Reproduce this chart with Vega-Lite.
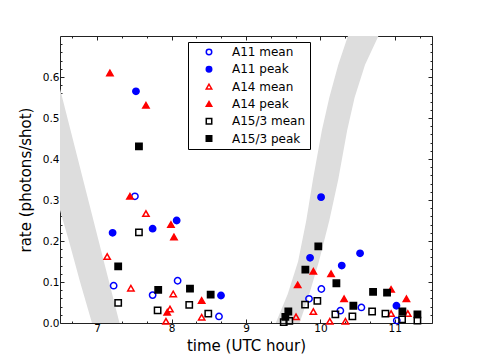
{
  "$schema": "https://vega.github.io/schema/vega-lite/v6.json",
  "width": 372,
  "height": 287,
  "autosize": {"type": "none"},
  "padding": {"left": 60, "top": 36, "right": 48, "bottom": 37},
  "config": {
    "view": {"stroke": "#222", "strokeWidth": 1},
    "font": "DejaVu Sans",
    "axis": {
      "labelFont": "DejaVu Sans", "labelFontSize": 10.5, "labelColor": "#000",
      "tickColor": "#222", "tickWidth": 1, "domain": false, "grid": false,
      "titleFont": "DejaVu Sans", "titleFontSize": 15, "titleFontWeight": "normal", "titleColor": "#000"
    }
  },
  "datasets": {
    "band1": [
      {"y": 0.0, "xl": 6.93, "xr": 7.30},
      {"y": 0.1, "xl": 6.77, "xr": 7.16},
      {"y": 0.2, "xl": 6.62, "xr": 7.02},
      {"y": 0.3, "xl": 6.46, "xr": 6.88},
      {"y": 0.4, "xl": 6.31, "xr": 6.74},
      {"y": 0.5, "xl": 6.15, "xr": 6.60},
      {"y": 0.6, "xl": 6.00, "xr": 6.46},
      {"y": 0.7, "xl": 5.84, "xr": 6.32}
    ],
    "band2": [
      {"y": 0.0, "xl": 9.40, "xr": 9.72},
      {"y": 0.07, "xl": 9.56, "xr": 9.85},
      {"y": 0.15, "xl": 9.70, "xr": 9.98},
      {"y": 0.25, "xl": 9.81, "xr": 10.12},
      {"y": 0.35, "xl": 9.90, "xr": 10.24},
      {"y": 0.47, "xl": 10.02, "xr": 10.36},
      {"y": 0.55, "xl": 10.12, "xr": 10.46},
      {"y": 0.63, "xl": 10.24, "xr": 10.60},
      {"y": 0.70, "xl": 10.37, "xr": 10.78}
    ],
    "pts": [
      {"series": "A11 mean", "t": 7.507, "rate": 0.309},
      {"series": "A11 mean", "t": 7.221, "rate": 0.091},
      {"series": "A11 mean", "t": 7.745, "rate": 0.068},
      {"series": "A11 mean", "t": 8.081, "rate": 0.103},
      {"series": "A11 mean", "t": 8.637, "rate": 0.016},
      {"series": "A11 mean", "t": 10.013, "rate": 0.083},
      {"series": "A11 mean", "t": 9.847, "rate": 0.059},
      {"series": "A11 mean", "t": 10.551, "rate": 0.038},
      {"series": "A11 mean", "t": 10.268, "rate": 0.030},
      {"series": "A11 mean", "t": 11.027, "rate": 0.006},
      {"series": "A11 peak", "t": 7.521, "rate": 0.565},
      {"series": "A11 peak", "t": 7.207, "rate": 0.220},
      {"series": "A11 peak", "t": 7.745, "rate": 0.230},
      {"series": "A11 peak", "t": 8.068, "rate": 0.250},
      {"series": "A11 peak", "t": 8.664, "rate": 0.067},
      {"series": "A11 peak", "t": 10.009, "rate": 0.307},
      {"series": "A11 peak", "t": 10.533, "rate": 0.170},
      {"series": "A11 peak", "t": 9.861, "rate": 0.159},
      {"series": "A11 peak", "t": 10.287, "rate": 0.140},
      {"series": "A11 peak", "t": 11.022, "rate": 0.042},
      {"series": "A14 mean", "t": 7.655, "rate": 0.267},
      {"series": "A14 mean", "t": 7.134, "rate": 0.162},
      {"series": "A14 mean", "t": 7.453, "rate": 0.085},
      {"series": "A14 mean", "t": 8.022, "rate": 0.071},
      {"series": "A14 mean", "t": 7.978, "rate": 0.034},
      {"series": "A14 mean", "t": 7.924, "rate": 0.004},
      {"series": "A14 mean", "t": 8.404, "rate": 0.014},
      {"series": "A14 mean", "t": 9.905, "rate": 0.028},
      {"series": "A14 mean", "t": 9.672, "rate": 0.015},
      {"series": "A14 mean", "t": 10.126, "rate": 0.004},
      {"series": "A14 mean", "t": 10.336, "rate": 0.004},
      {"series": "A14 mean", "t": 10.950, "rate": 0.023},
      {"series": "A14 mean", "t": 11.175, "rate": 0.023},
      {"series": "A14 peak", "t": 7.171, "rate": 0.610},
      {"series": "A14 peak", "t": 7.655, "rate": 0.531},
      {"series": "A14 peak", "t": 7.440, "rate": 0.309},
      {"series": "A14 peak", "t": 7.991, "rate": 0.240},
      {"series": "A14 peak", "t": 8.032, "rate": 0.210},
      {"series": "A14 peak", "t": 8.404, "rate": 0.055},
      {"series": "A14 peak", "t": 7.941, "rate": 0.026},
      {"series": "A14 peak", "t": 9.905, "rate": 0.126},
      {"series": "A14 peak", "t": 10.143, "rate": 0.120},
      {"series": "A14 peak", "t": 9.695, "rate": 0.093},
      {"series": "A14 peak", "t": 10.318, "rate": 0.059},
      {"series": "A14 peak", "t": 10.950, "rate": 0.082},
      {"series": "A14 peak", "t": 11.156, "rate": 0.059},
      {"series": "A15/3 mean", "t": 7.561, "rate": 0.221},
      {"series": "A15/3 mean", "t": 7.282, "rate": 0.049},
      {"series": "A15/3 mean", "t": 7.812, "rate": 0.031},
      {"series": "A15/3 mean", "t": 8.237, "rate": 0.044},
      {"series": "A15/3 mean", "t": 8.493, "rate": 0.023},
      {"series": "A15/3 mean", "t": 9.959, "rate": 0.054},
      {"series": "A15/3 mean", "t": 9.794, "rate": 0.045},
      {"series": "A15/3 mean", "t": 10.695, "rate": 0.028},
      {"series": "A15/3 mean", "t": 10.874, "rate": 0.023},
      {"series": "A15/3 mean", "t": 10.201, "rate": 0.021},
      {"series": "A15/3 mean", "t": 10.430, "rate": 0.016},
      {"series": "A15/3 mean", "t": 9.507, "rate": 0.002},
      {"series": "A15/3 mean", "t": 9.582, "rate": 0.005},
      {"series": "A15/3 mean", "t": 11.098, "rate": 0.009},
      {"series": "A15/3 mean", "t": 11.304, "rate": 0.006},
      {"series": "A15/3 peak", "t": 7.561, "rate": 0.431},
      {"series": "A15/3 peak", "t": 7.282, "rate": 0.138},
      {"series": "A15/3 peak", "t": 7.820, "rate": 0.081},
      {"series": "A15/3 peak", "t": 8.247, "rate": 0.084},
      {"series": "A15/3 peak", "t": 8.525, "rate": 0.069},
      {"series": "A15/3 peak", "t": 9.972, "rate": 0.187},
      {"series": "A15/3 peak", "t": 9.798, "rate": 0.130},
      {"series": "A15/3 peak", "t": 10.215, "rate": 0.097},
      {"series": "A15/3 peak", "t": 10.708, "rate": 0.076},
      {"series": "A15/3 peak", "t": 10.896, "rate": 0.074},
      {"series": "A15/3 peak", "t": 10.443, "rate": 0.042},
      {"series": "A15/3 peak", "t": 9.569, "rate": 0.028},
      {"series": "A15/3 peak", "t": 11.102, "rate": 0.028},
      {"series": "A15/3 peak", "t": 11.304, "rate": 0.021},
      {"series": "A15/3 peak", "t": 9.529, "rate": 0.015}
    ]
  },
  "layer": [
    {
      "data": {"name": "band1"},
      "mark": {"type": "area", "orient": "horizontal", "color": "#dddddd", "clip": true},
      "encoding": {
        "y": {"field": "y", "type": "quantitative", "scale": {"domain": [0, 0.7], "nice": false, "zero": false},
          "axis": {"orient": "left", "values": [0, 0.1, 0.2, 0.3, 0.4, 0.5, 0.6], "format": ".1f", "tickSize": -4, "labelPadding": 5, "title": "rate (photons/shot)", "titlePadding": 9}},
        "x": {"field": "xl", "type": "quantitative", "scale": {"domain": [6.5, 11.5], "nice": false, "zero": false},
          "axis": {"orient": "bottom", "values": [7, 8, 9, 10, 11], "format": "d", "tickSize": -4, "labelPadding": 4, "title": "time (UTC hour)", "titlePadding": 5}},
        "x2": {"field": "xr"}
      }
    },
    {
      "data": {"name": "band2"},
      "mark": {"type": "area", "orient": "horizontal", "color": "#dddddd", "clip": true},
      "encoding": {
        "y": {"field": "y", "type": "quantitative", "scale": {"domain": [0, 0.7], "nice": false, "zero": false},
          "axis": {"orient": "right", "values": [0, 0.1, 0.2, 0.3, 0.4, 0.5, 0.6, 0.7], "labels": false, "tickSize": -4, "title": null}},
        "x": {"field": "xl", "type": "quantitative", "scale": {"domain": [6.5, 11.5], "nice": false, "zero": false},
          "axis": {"orient": "top", "values": [7, 8, 9, 10, 11], "labels": false, "tickSize": -4, "title": null}},
        "x2": {"field": "xr"}
      }
    },
    {
      "data": {"name": "pts"},
      "mark": {"type": "point", "opacity": 0},
      "encoding": {
        "y": {"field": "rate", "type": "quantitative", "scale": {"domain": [0, 0.7], "nice": false, "zero": false},
          "axis": {"orient": "right", "values": [0.02, 0.04, 0.06, 0.08, 0.12, 0.14, 0.16, 0.18, 0.22, 0.24, 0.26, 0.28, 0.32, 0.34, 0.36, 0.38, 0.42, 0.44, 0.46, 0.48, 0.52, 0.54, 0.56, 0.58, 0.62, 0.64, 0.66, 0.68], "labels": false, "tickSize": -2, "title": null}},
        "x": {"field": "t", "type": "quantitative", "scale": {"domain": [6.5, 11.5], "nice": false, "zero": false},
          "axis": {"orient": "top", "values": [6.6667, 7.3333, 7.6667, 8.3333, 8.6667, 9.3333, 9.6667, 10.3333, 10.6667, 11.3333], "labels": false, "tickSize": -2, "title": null}}
      }
    },
    {
      "data": {"name": "pts"},
      "mark": {"type": "point", "opacity": 1, "size": 40, "strokeWidth": 1.5},
      "encoding": {
        "y": {"field": "rate", "type": "quantitative", "scale": {"domain": [0, 0.7], "nice": false, "zero": false},
          "axis": {"orient": "left", "values": [0.02, 0.04, 0.06, 0.08, 0.12, 0.14, 0.16, 0.18, 0.22, 0.24, 0.26, 0.28, 0.32, 0.34, 0.36, 0.38, 0.42, 0.44, 0.46, 0.48, 0.52, 0.54, 0.56, 0.58, 0.62, 0.64, 0.66, 0.68], "labels": false, "tickSize": -2, "title": null}},
        "x": {"field": "t", "type": "quantitative", "scale": {"domain": [6.5, 11.5], "nice": false, "zero": false},
          "axis": {"orient": "bottom", "values": [6.6667, 7.3333, 7.6667, 8.3333, 8.6667, 9.3333, 9.6667, 10.3333, 10.6667, 11.3333], "labels": false, "tickSize": -2, "title": null}},
        "shape": {"field": "series", "type": "nominal",
          "scale": {"domain": ["A11 mean", "A11 peak", "A14 mean", "A14 peak", "A15/3 mean", "A15/3 peak"], "range": ["circle", "circle", "triangle-up", "triangle-up", "square", "square"]},
          "legend": {"orient": "none", "legendX": 128, "legendY": 6, "title": null, "padding": 4, "symbolOffset": 11, "labelOffset": 17, "rowPadding": 5.3, "strokeColor": "#000", "fillColor": "#fff", "cornerRadius": 0, "labelFont": "DejaVu Sans", "labelFontSize": 12, "labelColor": "#000", "symbolSize": 30, "symbolStrokeWidth": 1.5}},
        "stroke": {"field": "series", "type": "nominal",
          "scale": {"domain": ["A11 mean", "A11 peak", "A14 mean", "A14 peak", "A15/3 mean", "A15/3 peak"], "range": ["#0000ff", "#0000ff", "#ff0000", "#ff0000", "#000000", "#000000"]}},
        "fill": {"field": "series", "type": "nominal",
          "scale": {"domain": ["A11 mean", "A11 peak", "A14 mean", "A14 peak", "A15/3 mean", "A15/3 peak"], "range": ["transparent", "#0000ff", "transparent", "#ff0000", "transparent", "#000000"]}}
      }
    }
  ],
  "resolve": {"axis": {"x": "independent", "y": "independent"}}
}
